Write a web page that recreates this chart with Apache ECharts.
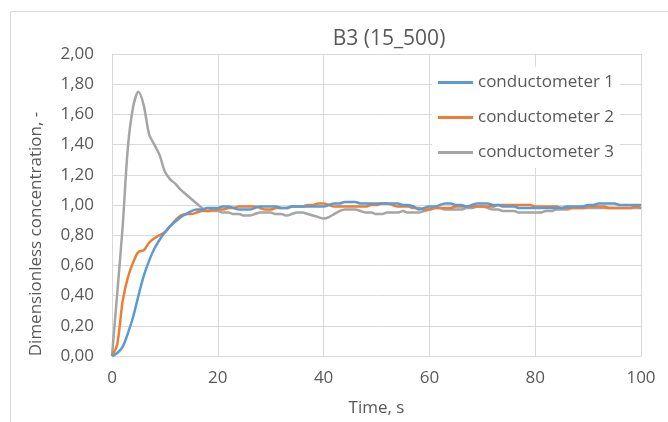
<!DOCTYPE html>
<html>
<head>
<meta charset="utf-8">
<script src="https://cdn.jsdelivr.net/npm/echarts@6/dist/echarts.min.js"></script>
<style>
html,body{margin:0;padding:0;background:#fff;}
#c{width:668px;height:422px;}
</style>
</head>
<body>
<div id="c"></div>
<script>
var titleText = "B3 (15_500)";
var seriesNames = ["conductometer 1", "conductometer 2", "conductometer 3"];
var xTicks = [0, 20, 40, 60, 80, 100];
var yTicks = [0, 0.2, 0.4, 0.6, 0.8, 1.0, 1.2, 1.4, 1.6, 1.8, 2.0];

var time = [];
for (var i = 0; i <= 100; i++) time.push(i);

var cond1 = [0.00,0.02,0.06,0.15,0.26,0.40,0.53,0.63,0.71,0.77,0.82,0.86,0.89,0.92,0.94,0.96,0.97,0.97,0.98,0.98,
0.98,0.99,0.99,0.98,0.97,0.97,0.97,0.98,0.99,0.99,0.99,0.99,0.98,0.98,0.99,0.99,0.99,0.99,0.99,0.99,
0.99,1.00,1.01,1.01,1.02,1.02,1.02,1.01,1.01,1.01,1.01,1.01,1.01,1.01,1.01,1.00,1.00,0.99,0.97,0.98,
0.99,0.99,1.00,1.01,1.01,1.00,1.00,0.99,1.00,1.01,1.01,1.01,1.00,1.00,0.99,0.99,0.99,0.98,0.98,0.98,
0.98,0.98,0.98,0.98,0.98,0.98,0.99,0.99,0.99,0.99,1.00,1.00,1.01,1.01,1.01,1.01,1.00,1.00,1.00,1.00,1.00];

var cond2 = [0.00,0.08,0.36,0.52,0.62,0.69,0.70,0.75,0.78,0.80,0.82,0.86,0.90,0.93,0.94,0.94,0.95,0.96,0.96,0.97,
0.97,0.97,0.98,0.98,0.99,0.99,0.99,0.99,0.98,0.97,0.97,0.98,0.98,0.98,0.99,0.99,0.99,1.00,1.00,1.01,
1.01,1.00,0.99,0.99,0.99,0.99,0.99,0.99,0.99,1.00,1.00,1.01,1.01,1.00,0.99,0.99,0.99,0.98,0.98,0.97,
0.97,0.98,0.98,0.98,0.98,0.99,0.99,0.99,0.99,0.99,0.99,0.99,0.99,1.00,1.00,1.00,1.00,1.00,1.00,1.00,
0.99,0.99,0.99,0.99,0.99,0.98,0.98,0.98,0.98,0.98,0.99,0.99,0.99,0.99,0.98,0.98,0.98,0.98,0.98,0.99,0.98];

var cond3 = [0.00,0.42,0.85,1.38,1.65,1.75,1.66,1.47,1.40,1.33,1.22,1.17,1.14,1.10,1.07,1.04,1.01,0.98,0.96,0.96,
0.96,0.95,0.95,0.94,0.94,0.93,0.93,0.94,0.95,0.95,0.95,0.94,0.94,0.93,0.94,0.95,0.95,0.94,0.93,0.92,
0.91,0.92,0.94,0.96,0.97,0.97,0.97,0.96,0.95,0.95,0.94,0.94,0.95,0.95,0.95,0.96,0.95,0.95,0.95,0.96,
0.97,0.98,0.98,0.97,0.97,0.97,0.97,0.98,0.98,0.99,0.99,0.98,0.97,0.97,0.96,0.96,0.96,0.95,0.95,0.95,
0.95,0.95,0.96,0.96,0.97,0.97,0.97,0.98,0.98,0.98,0.98,0.98,0.98,0.98,0.98,0.98,0.98,0.98,0.98,0.98,0.98];

var colors = ["#5B9BD5", "#ED7D31", "#A5A5A5"];
var textColor = "#595959";
var font = "'Open Sans', sans-serif";

function pairs(vals) {
  return time.map(function (t, k) { return [t, vals[k]]; });
}

var chart = echarts.init(document.getElementById('c'), null, {renderer: 'canvas'});
var allVals = [cond1, cond2, cond3];
chart.setOption({
  animation: false,
  color: colors,
  title: {
    text: titleText,
    left: 384, textAlign: 'center', top: 24,
    textStyle: {color: textColor, fontSize: 21, fontWeight: 'normal', fontFamily: font}
  },
  graphic: [
    {type: 'rect', shape: {x: 10.5, y: 11.5, width: 700, height: 500}, style: {fill: 'none', stroke: '#d9d9d9', lineWidth: 1}, silent: true, z: -10},
    {type: 'text', x: 36, y: 234, rotation: Math.PI / 2,
     style: {text: 'Dimensionless concentration, -', fill: textColor, fontSize: 17, fontFamily: font, align: 'center', verticalAlign: 'middle'}}
  ],
  legend: {
    orient: 'vertical',
    left: 432, top: 67,
    icon: 'rect',
    itemWidth: 35, itemHeight: 3, itemGap: 12,
    backgroundColor: '#fff',
    padding: [4, 6, 4, 6],
    textStyle: {color: textColor, fontSize: 17, fontFamily: font, lineHeight: 23},
    data: seriesNames
  },
  grid: {left: 112, right: 27, top: 54, bottom: 64, containLabel: false},
  xAxis: {
    type: 'value', min: 0, max: 100, interval: 20,
    name: 'Time, s', nameLocation: 'middle', nameGap: 44,
    nameTextStyle: {color: textColor, fontSize: 17, fontFamily: font},
    axisLine: {show: true, lineStyle: {color: '#d9d9d9'}},
    axisTick: {show: false},
    axisLabel: {color: textColor, fontSize: 17, fontFamily: font, margin: 14,
      formatter: function (v) { return xTicks.indexOf(v) >= 0 ? String(v) : ''; }},
    splitLine: {show: true, lineStyle: {color: '#d9d9d9'}}
  },
  yAxis: {
    type: 'value', min: 0, max: 2, interval: 0.2,
    axisLine: {show: true, lineStyle: {color: '#d9d9d9'}},
    axisTick: {show: false},
    axisLabel: {color: textColor, fontSize: 17, fontFamily: font, margin: 18,
      formatter: function (v) { return v.toFixed(2).replace('.', ','); }},
    splitLine: {show: true, lineStyle: {color: '#d9d9d9'}}
  },
  series: seriesNames.map(function (n, k) {
    return {
      name: n, type: 'line', data: pairs(allVals[k]),
      symbol: 'none', smooth: 0.3,
      lineStyle: {width: 2.5, color: colors[k]},
      itemStyle: {color: colors[k]},
      z: 3 - k
    };
  })
});
</script>
</body>
</html>
